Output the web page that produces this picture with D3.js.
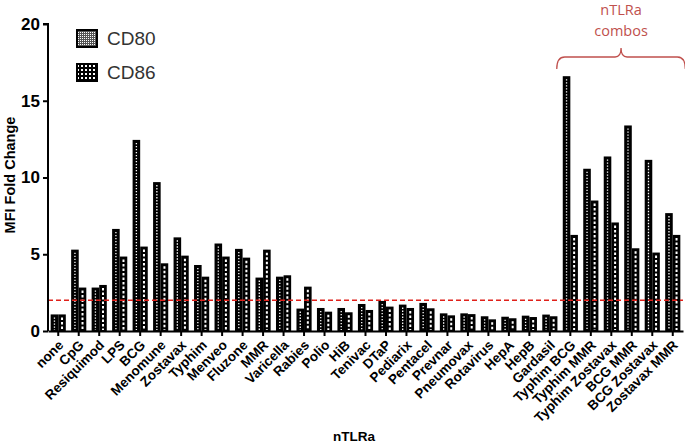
<!DOCTYPE html>
<html><head><meta charset="utf-8">
<script src="https://cdn.jsdelivr.net/npm/d3@7"></script>
<style>body{margin:0;background:#fff}svg{display:block}</style>
</head><body>
<svg id="c" width="685" height="445"></svg>
<script>
const categories = ["none","CpG","Resiquimod","LPS","BCG","Menomune","Zostavax","Typhim","Menveo","Fluzone","MMR","Varicella","Rabies","Polio","HiB","Tenivac","DTaP","Pediarix","Pentacel","Prevnar","Pneumovax","Rotavirus","HepA","HepB","Gardasil","Typhim BCG","Typhim MMR","Typhim Zostavax","BCG MMR","BCG Zostavax","Zostavax MMR"];
const cd80 = [1.08,5.3,2.83,6.65,12.45,9.7,6.1,4.3,5.7,5.35,3.48,3.54,1.46,1.5,1.5,1.76,1.96,1.72,1.83,1.15,1.15,0.96,0.93,1.0,1.07,16.6,10.57,11.37,13.39,11.15,7.68];
const cd86 = [1.08,2.83,3.0,4.85,5.5,4.41,4.91,3.54,4.85,4.78,5.3,3.63,2.89,1.26,1.22,1.37,1.59,1.5,1.48,1.02,1.1,0.76,0.83,0.91,0.96,6.26,8.5,7.07,5.39,5.11,6.26];
const seriesNames = ["CD80","CD86"];
const yTicks = [0,5,10,15,20];
const threshold = 2;
const bracketLabel = ["nTLRa","combos"];
const bracketRange = ["Typhim BCG","Zostavax MMR"];

const svg = d3.select("#c");
const defs = svg.append("defs");
const p1 = defs.append("pattern").attr("id","pCD80").attr("width",2).attr("height",2).attr("patternUnits","userSpaceOnUse");
p1.append("rect").attr("width",2).attr("height",2).attr("fill","#555");
p1.append("rect").attr("width",1).attr("height",1).attr("fill","#fff");
const p2 = defs.append("pattern").attr("id","pCD86").attr("width",4).attr("height",4).attr("patternUnits","userSpaceOnUse");
p2.append("rect").attr("width",4).attr("height",4).attr("fill","#000");
p2.append("rect").attr("x",1).attr("y",1).attr("width",2).attr("height",2).attr("fill","#fff");

const x0 = 48, x1 = 683, yTop = 24, yBot = 331;
const x = d3.scaleBand().domain(categories).range([x0, x1]).paddingInner(0.26).paddingOuter(0.13);
const xs = d3.scaleBand().domain(seriesNames).range([0, x.bandwidth()]);
const y = d3.scaleLinear().domain([0,20]).range([yBot, yTop]);

const data = categories.map((c,i)=>({c, vals:[cd80[i], cd86[i]]}));

// bars
const g = svg.append("g");
data.forEach(d=>{
  d.vals.forEach((v,j)=>{
    const s = seriesNames[j];
    const bx = x(d.c) + xs(s);
    const bw = xs.bandwidth();
    g.append("rect").attr("x",bx+1).attr("y",y(v)+1).attr("width",bw-2).attr("height",y(0)-y(v)-1)
      .attr("fill","#000").attr("stroke","#000").attr("stroke-width",2);
    g.append("line").attr("x1",bx+bw/2).attr("x2",bx+bw/2).attr("y1",y(v)+3).attr("y2",y(0)-1)
      .attr("stroke","#fff").attr("stroke-width", j===0?1.3:2)
      .attr("stroke-dasharray", j===0?"1.3,1.7":"2.5,2");
  });
});

// threshold
svg.append("line").attr("x1",x0).attr("x2",x1).attr("y1",y(threshold)).attr("y2",y(threshold))
  .attr("stroke","#e0201a").attr("stroke-width",1.5).attr("stroke-dasharray","5,3");

// axes
const yAxis = d3.axisLeft(y).tickValues(yTicks).tickSize(5).tickPadding(3);
const ya = svg.append("g").attr("transform",`translate(${x0},0)`).call(yAxis);
ya.select(".domain").attr("stroke-width",2).attr("d",`M-5,${yTop}H0V${yBot}`);
ya.selectAll(".tick line").attr("stroke-width",2);
ya.selectAll(".tick text").attr("font-family","Liberation Sans, Arial, sans-serif").attr("font-weight","bold").attr("font-size",17).attr("fill","#000");

const xAxis = d3.axisBottom(x).tickSize(5).tickSizeOuter(0);
const xa = svg.append("g").attr("transform",`translate(0,${yBot})`).call(xAxis);
xa.select(".domain").attr("stroke-width",2);
xa.selectAll(".tick line").attr("stroke-width",2);
xa.selectAll(".tick text").attr("font-family","Liberation Sans, Arial, sans-serif").attr("font-weight","bold").attr("font-size",13.5).attr("fill","#000")
  .attr("text-anchor","end").attr("dy",0).attr("y",0)
  .attr("transform","translate(6,15) rotate(-45)");

// axis titles
svg.append("text").attr("transform",`translate(15,175) rotate(-90)`).attr("text-anchor","middle")
  .attr("font-family","Liberation Sans, Arial, sans-serif").attr("font-weight","bold").attr("font-size",14.5).text("MFI Fold Change");
svg.append("text").attr("x",354).attr("y",441).attr("text-anchor","middle")
  .attr("font-family","Liberation Sans, Arial, sans-serif").attr("font-weight","bold").attr("font-size",13.5).text("nTLRa");

// legend
const leg = svg.append("g");
seriesNames.forEach((s,i)=>{
  const ly = 30 + i*34;
  leg.append("rect").attr("x",77).attr("y",ly).attr("width",20).attr("height",17)
    .attr("fill",`url(#p${s})`).attr("stroke","#000").attr("stroke-width",2);
  leg.append("text").attr("x",107).attr("y",ly+15).attr("font-family","Liberation Sans, Arial, sans-serif")
    .attr("font-size",19).attr("fill","#333").text(s);
});

// bracket
const bx1 = x(bracketRange[0]) - 6, bx2 = x(bracketRange[1]) + x.bandwidth() + 5;
const bm = (bx1+bx2)/2, bt = 57;
const red = "#c0504d";
svg.append("path").attr("fill","none").attr("stroke",red).attr("stroke-width",1.3)
  .attr("d",`M${bx1},${bt+12} Q${bx1},${bt} ${bx1+8},${bt} L${bm-6},${bt} Q${bm},${bt} ${bm},${bt-9} Q${bm},${bt} ${bm+6},${bt} L${bx2-8},${bt} Q${bx2},${bt} ${bx2},${bt+12}`);
bracketLabel.forEach((t,i)=>{
  svg.append("text").attr("x",bm).attr("y",15+i*21).attr("text-anchor","middle")
    .attr("font-family","Open Sans, Lato, sans-serif").attr("font-size",14.5).attr("fill",red).text(t);
});
</script>
</body></html>
